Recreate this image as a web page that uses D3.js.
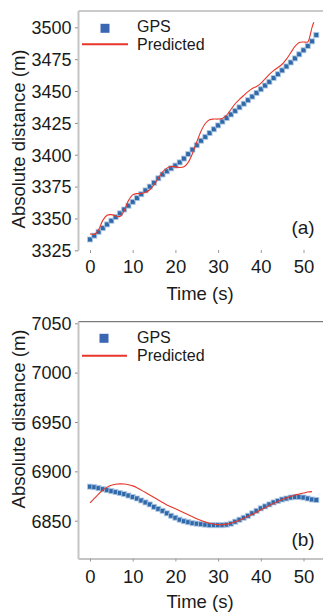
<!DOCTYPE html>
<html>
<head>
<meta charset="utf-8">
<script src="https://cdn.jsdelivr.net/npm/d3@7"></script>
<style>
  html, body { margin: 0; padding: 0; background: #fff; }
  svg { display: block; font-family: "Liberation Sans", Arial, Helvetica, sans-serif; }
</style>
</head>
<body>
<svg id="chart" width="323" height="612"></svg>
<script>
// ---------------- DATA ----------------
const timeSec = [0,1,2,3,4,5,6,7,8,9,10,11,12,13,14,15,16,17,18,19,20,21,22,23,24,25,26,27,28,29,30,31,32,33,34,35,36,37,38,39,40,41,42,43,44,45,46,47,48,49,50,51,52,53];

// Panel (a)
const gpsA = [3333.5,3336.5,3339.5,3342.4,3345.3,3348.2,3351.1,3354,3357,3360,3363,3366,3369,3372,3375,3378,3381.5,3384.5,3387,3389.3,3391.5,3394,3397,3400.5,3404,3407.5,3411,3414,3417,3420,3423,3426,3428.8,3431.6,3434.4,3437.2,3440,3442.8,3445.6,3448.5,3451.4,3454.3,3457.2,3460.2,3463.2,3466.2,3469.3,3472.4,3475.6,3478.8,3482,3485.3,3489,3494];
const predTimeA = [0,1,2,3,4,5,6,7,8,9,10,11,12,13,14,15,16,17,18,19,20,21,22,23,24,25,26,27,28,29,30,31,32,33,34,35,36,37,38,39,40,41,42,43,44,45,46,47,48,49,50,51,51.5,52,52.4];
const predA = [3338,3337.5,3341,3348.5,3352.5,3353,3352,3351.5,3356,3364,3368.5,3369.5,3369.5,3370.5,3372.5,3376.5,3381.5,3386.5,3389.5,3390.8,3390.5,3390,3390.5,3394,3401,3410,3418.5,3424.5,3427.5,3428,3428,3428.5,3431,3435.5,3440,3443.5,3446.5,3449.5,3452,3453.5,3456,3459.5,3463,3466,3468.5,3471,3475,3480,3485,3488,3488.5,3488.5,3493,3500,3504];

// Panel (b)
const gpsB = [6884.5,6884,6883,6882,6881,6880,6879,6878,6877,6875.5,6874,6872.5,6870.5,6868.5,6866.5,6864,6862,6860,6857.5,6855,6853,6851,6849.5,6848.5,6847.5,6847,6846.5,6846,6845.5,6845.5,6845.5,6845.5,6846,6847,6849,6851,6853,6855,6857.5,6860,6862.5,6864.5,6866.5,6868.5,6870,6871.5,6872.5,6873.5,6874,6874,6873.5,6872.5,6871.5,6871];
const predTimeB = [0,1,2,3,4,5,6,7,8,9,10,11,12,13,14,15,16,17,18,19,20,21,22,23,24,25,26,27,28,29,30,31,32,33,34,35,36,37,38,39,40,41,42,43,44,45,46,47,48,49,50,51,52];
const predB = [6868,6872.5,6877,6881,6884,6886,6887,6887.3,6887.2,6886.5,6885.3,6883.5,6881,6878.5,6876,6873.5,6871,6868.5,6866,6864,6862,6860,6858,6856,6854,6852,6850.3,6848.8,6847.5,6846.6,6846,6846,6846.5,6847.5,6849,6850.5,6852.5,6854.5,6856.5,6858.5,6861,6863,6865.5,6867.5,6869.5,6871.5,6873,6874.5,6876,6877,6878,6879,6879.5];

const xTicks = [0,10,20,30,40,50];
const yTicksA = [3325,3350,3375,3400,3425,3450,3475,3500];
const yTicksB = [6850,6900,6950,7000,7050];
const legendLabels = ["GPS","Predicted"];
const xTitle = "Time (s)";
const yTitle = "Absolute distance (m)";
const panelTags = ["(a)","(b)"];

// ---------------- STYLE ----------------
const gpsColor = "#2f69aa";
const gpsHalo = "#b3cbe4";
const predColor = "#e8362a";
const axisGray = "#c4c4c4";
const textColor = "#1a1a1a";

const svg = d3.select("#chart");

const panels = [
  { gps: gpsA, predT: predTimeA, pred: predA, yTicks: yTicksA,
    yDomain: [3325, 3500], yRange: [250.3, 27.3],
    top: 11, bottom: 250.5, borderColor: "#b8b8b8", borderWidth: 1.6, xAxisLine: false,
    xTickLabelY: 273, xTitleY: 299.5, yTitleCY: 139,
    tag: panelTags[0], tagY: 234,
    legSqY: 28.3, legGpsY: 31.8, legLineY: 44.3, legPredY: 50.3, legSqX: 105, legLineX1: 82, legLineX2: 128 },
  { gps: gpsB, predT: predTimeB, pred: predB, yTicks: yTicksB,
    yDomain: [6850, 7050], yRange: [520.7, 323.3],
    top: 321.7, bottom: 559, borderColor: "#5a5a5a", borderWidth: 1, xAxisLine: true,
    xTickLabelY: 583, xTitleY: 608.3, yTitleCY: 419,
    tag: panelTags[1], tagY: 546,
    legSqY: 338.3, legGpsY: 342.6, legLineY: 355.7, legPredY: 360.8, legSqX: 104, legLineX1: 82, legLineX2: 127 }
];

const axisX = 78.5;
const rightEdge = 323;

panels.forEach(p => {
  const x = d3.scaleLinear().domain([0, 50]).range([90, 303.5]);
  const y = d3.scaleLinear().domain(p.yDomain).range(p.yRange);
  const g = svg.append("g");

  // top border
  g.append("line").attr("x1", axisX).attr("x2", rightEdge)
    .attr("y1", p.top).attr("y2", p.top)
    .attr("stroke", p.borderColor).attr("stroke-width", p.borderWidth);

  // bottom x-axis line (panel b only)
  if (p.xAxisLine) {
    g.append("line").attr("x1", axisX).attr("x2", rightEdge)
      .attr("y1", p.bottom).attr("y2", p.bottom)
      .attr("stroke", axisGray).attr("stroke-width", 2);
  }

  // y axis
  const yAxis = d3.axisLeft(y).tickValues(p.yTicks).tickSize(3.5).tickPadding(3.5)
    .tickSizeOuter(0).tickFormat(d3.format("d"));
  const ya = g.append("g").attr("transform", `translate(${axisX},0)`).call(yAxis);
  ya.select(".domain").remove();
  ya.selectAll(".tick line").attr("stroke", "#888").attr("stroke-width", 1);
  ya.selectAll(".tick text").attr("fill", textColor).style("font-size", "18px")
    .attr("dy", "0.35em");
  g.append("line").attr("x1", axisX).attr("x2", axisX)
    .attr("y1", p.top).attr("y2", p.bottom)
    .attr("stroke", axisGray).attr("stroke-width", 2);

  // x axis (ticks + labels)
  const xAxis = d3.axisBottom(x).tickValues(xTicks).tickSize(3).tickSizeOuter(0).tickFormat(d3.format("d"));
  const xa = g.append("g").attr("transform", `translate(0,${p.bottom - 0.5})`).call(xAxis);
  xa.select(".domain").remove();
  xa.selectAll(".tick line").attr("stroke", "#999").attr("stroke-width", 1);
  xa.selectAll(".tick text").attr("fill", textColor).style("font-size", "18.5px")
    .attr("y", p.xTickLabelY - p.bottom + 0.5).attr("dy", 0);

  // x title
  g.append("text").attr("x", 200).attr("y", p.xTitleY)
    .attr("text-anchor", "middle").attr("fill", textColor)
    .style("font-size", "18.5px").text(xTitle);

  // y title
  g.append("text").attr("transform", `translate(25,${p.yTitleCY}) rotate(-90)`)
    .attr("text-anchor", "middle").attr("fill", textColor)
    .style("font-size", "18.5px").text(yTitle);

  // GPS squares
  const s = 5;
  g.append("g").selectAll("rect").data(p.gps).join("rect")
    .attr("x", (d, i) => x(timeSec[i]) - s / 2)
    .attr("y", d => y(d) - s / 2)
    .attr("width", s).attr("height", s)
    .attr("fill", gpsColor)
    .attr("stroke", gpsHalo).attr("stroke-width", 1).attr("stroke-opacity", 0.8);

  // predicted line
  const line = d3.line().x(d => x(d[0])).y(d => y(d[1])).curve(d3.curveCatmullRom.alpha(0.5));
  g.append("path").datum(p.predT.map((t, i) => [t, p.pred[i]]))
    .attr("d", line).attr("fill", "none")
    .attr("stroke", predColor).attr("stroke-width", 1.1);

  // legend
  g.append("rect").attr("x", p.legSqX - 4.5).attr("y", p.legSqY - 4.5)
    .attr("width", 9).attr("height", 9).attr("fill", "#3b66b3");
  g.append("text").attr("x", 137).attr("y", p.legGpsY).attr("fill", textColor)
    .style("font-size", "16px").text(legendLabels[0]);
  g.append("line").attr("x1", p.legLineX1).attr("x2", p.legLineX2)
    .attr("y1", p.legLineY).attr("y2", p.legLineY)
    .attr("stroke", predColor).attr("stroke-width", 2);
  g.append("text").attr("x", 137).attr("y", p.legPredY).attr("fill", textColor)
    .style("font-size", "16px").text(legendLabels[1]);

  // panel tag
  g.append("text").attr("x", 303).attr("y", p.tagY).attr("text-anchor", "middle")
    .attr("fill", textColor).style("font-size", "19px").text(p.tag);
});
</script>
</body>
</html>
